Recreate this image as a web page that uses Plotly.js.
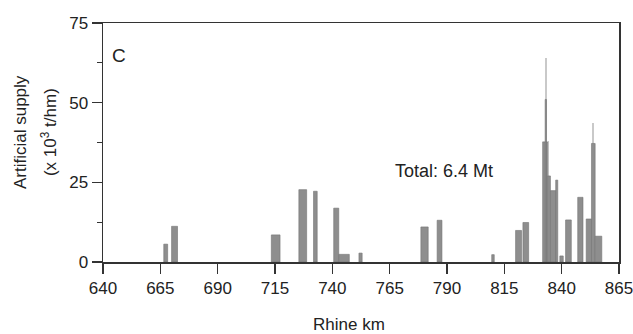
<!DOCTYPE html>
<html>
<head>
<meta charset="utf-8">
<script src="https://cdn.plot.ly/plotly-3.0.1.min.js"></script>
<style>html,body{margin:0;padding:0;background:#fff;}#chart{width:633px;height:334px;}</style>
</head>
<body>
<div id="chart"></div>
<script>
// Main bars: river-km segment (from, to) and artificial supply (x 10^3 t/hm)
var kmFrom = [666.5, 669.9, 713.4, 725.4, 731.8, 740.6, 742.8, 751.6, 778.6, 785.7, 809.5, 819.9, 823.1,
              831.7, 832.8, 833.9, 835.1, 837.4, 839.2, 841.7, 847.0, 850.7, 853.0, 854.6];
var kmTo   = [668.2, 672.5, 717.2, 728.8, 733.4, 742.8, 747.4, 753.0, 781.8, 787.8, 810.6, 822.5, 825.6,
              833.9, 833.4, 835.1, 837.5, 838.3, 840.7, 844.2, 849.3, 853.1, 854.6, 857.5];
var supply = [5.6, 11.2, 8.5, 22.7, 22.2, 16.9, 2.4, 2.8, 11.0, 13.1, 2.3, 9.9, 12.4,
              37.7, 51.0, 27.0, 22.4, 25.7, 1.9, 13.2, 20.3, 13.5, 37.2, 8.1];

// Narrow peak values (lighter, thin hectometre peaks)
var peakFrom = [832.7, 834.1, 853.3];
var peakTo   = [833.4, 834.6, 854.0];
var peakVal  = [64.0, 38.0, 43.6];

var yTicks = [0, 25, 50, 75];
var xTicks = [640, 665, 690, 715, 740, 765, 790, 815, 840, 865];

function centers(a, b) { return a.map(function (v, i) { return (v + b[i]) / 2; }); }
function widths(a, b) { return a.map(function (v, i) { return b[i] - v; }); }

var txtCol = '#222';
var axCol = '#333';
var fontFam = 'Liberation Sans, Arial, sans-serif';

var traces = [
  {
    type: 'bar', x: centers(peakFrom, peakTo), y: peakVal, width: widths(peakFrom, peakTo),
    marker: {color: '#c9c9c9', line: {width: 0}}, hoverinfo: 'skip', showlegend: false
  },
  {
    type: 'bar', x: centers(kmFrom, kmTo), y: supply, width: widths(kmFrom, kmTo),
    marker: {color: '#8e8e8e', line: {color: '#747474', width: 0.6}}, showlegend: false
  }
];

var layout = {
  width: 633, height: 334,
  margin: {l: 103, r: 14, t: 23, b: 72},
  paper_bgcolor: '#fff', plot_bgcolor: '#fff',
  barmode: 'overlay', bargap: 0,
  font: {family: fontFam, size: 17, color: txtCol},
  showlegend: false,
  xaxis: {
    range: [640, 865], tickvals: xTicks, ticktext: xTicks.map(String),
    ticks: 'outside', ticklen: 10, tickwidth: 1.5, tickcolor: axCol,
    ticklabeloverflow: 'allow',
    showline: true, linecolor: axCol, linewidth: 1.5, mirror: true,
    showgrid: false, zeroline: false, fixedrange: true,
    tickfont: {family: fontFam, size: 17, color: txtCol}
  },
  yaxis: {
    range: [0, 75], tickvals: yTicks, ticktext: yTicks.map(String),
    ticks: 'outside', ticklen: 10, tickwidth: 1.5, tickcolor: axCol,
    minor: {dtick: 12.5, tick0: 0, ticks: 'outside', ticklen: 5, tickwidth: 1.2, tickcolor: axCol, showgrid: false},
    ticklabeloverflow: 'allow',
    showline: true, linecolor: axCol, linewidth: 1.5, mirror: true,
    showgrid: false, zeroline: false, fixedrange: true,
    tickfont: {family: fontFam, size: 17, color: txtCol}
  },
  annotations: [
    {text: 'C', xref: 'paper', yref: 'paper', x: 0.0316, y: 0.8628, xanchor: 'center', yanchor: 'middle',
     showarrow: false, font: {family: fontFam, size: 19, color: txtCol}},
    {text: 'Total: 6.4 Mt', xref: 'x', yref: 'y', x: 788.5, y: 28.6, xanchor: 'center', yanchor: 'middle',
     showarrow: false, font: {family: fontFam, size: 18, color: txtCol}},
    {text: 'Artificial supply', xref: 'paper', yref: 'paper', x: -0.1603, y: 0.545, textangle: -90,
     xanchor: 'center', yanchor: 'middle', showarrow: false, font: {family: fontFam, size: 17, color: txtCol}},
    {text: '(x 10<sup>3</sup> t/hm)', xref: 'paper', yref: 'paper', x: -0.106, y: 0.545, textangle: -90,
     xanchor: 'center', yanchor: 'middle', showarrow: false, font: {family: fontFam, size: 17, color: txtCol}},
    {text: 'Rhine km', xref: 'paper', yref: 'paper', x: 0.4773, y: -0.2607, xanchor: 'center', yanchor: 'middle',
     showarrow: false, font: {family: fontFam, size: 17, color: txtCol}}
  ]
};

Plotly.newPlot('chart', traces, layout, {displayModeBar: false, staticPlot: true});
</script>
</body>
</html>
